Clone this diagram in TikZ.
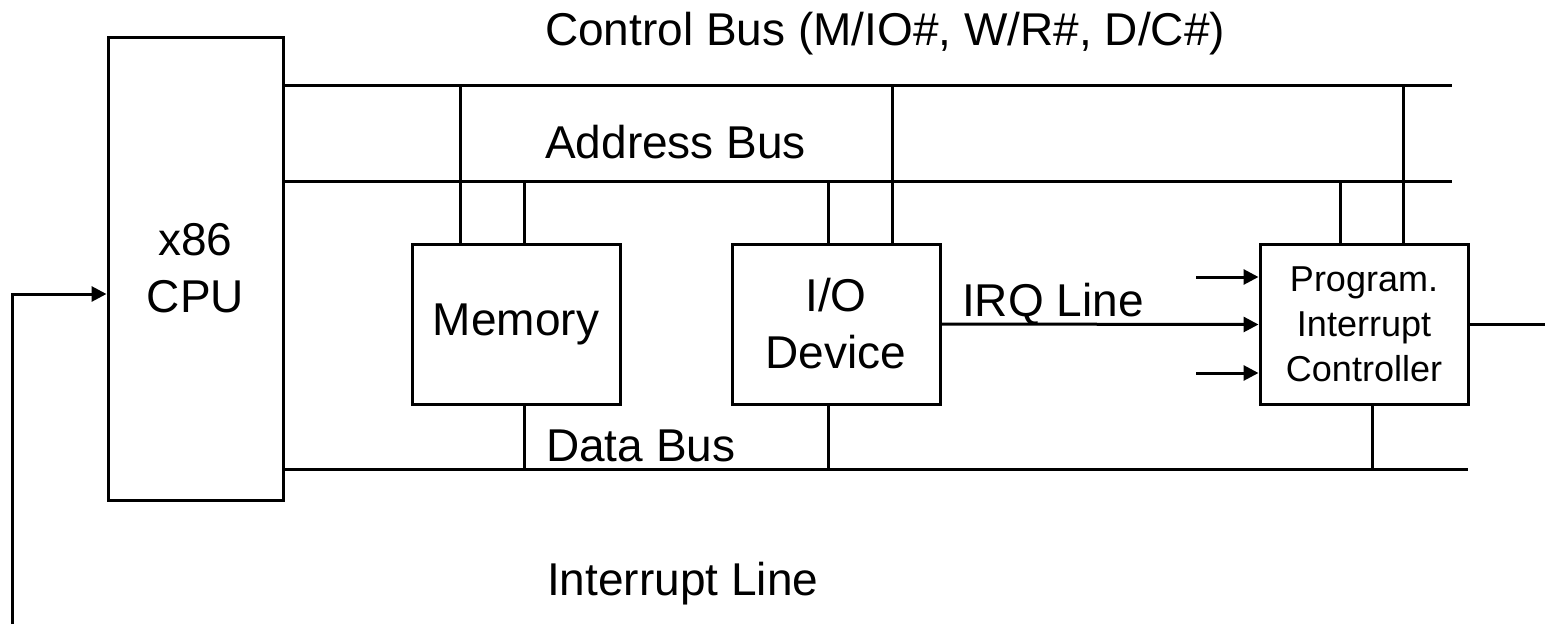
\documentclass[tikz,border=0pt]{standalone}
\usepackage{fontspec}
\setmainfont{Liberation Sans}
\usetikzlibrary{arrows.meta}
\begin{document}
\begin{tikzpicture}[x=1pt,y=-1pt,
  wire/.style={line width=3pt},
  arr/.style={wire,-{Triangle[length=15pt,width=15pt]}},
  blk/.style={draw,line width=3pt,minimum width=208pt,minimum height=160pt,
    inner sep=0pt,align=center,font=\fontsize{46}{57}\selectfont},
  lbl/.style={inner sep=0pt,anchor=base west,font=\fontsize{46}{57}\selectfont}]
\useasboundingbox (0,0) rectangle (1545,624);

% processor and devices
\node[blk,minimum width=175pt,minimum height=463pt] (cpu) at (195.5,268.5) {x86\\CPU};
\node[blk] (mem) at (516,324) {Memory};
\node[blk] (io) at (836,324) {I/O\\Device};
\node[blk,font=\fontsize{36}{45}\selectfont] (pic) at (1364,324.5) {Program.\\Interrupt\\Controller};

% bus end points
\coordinate (ctlEnd) at (1452,85);
\coordinate (adrEnd) at (1452,181);
\coordinate (datEnd) at (1468,469);

% the three buses
\draw[wire] (cpu.east |- ctlEnd) -- (ctlEnd);
\draw[wire] (cpu.east |- adrEnd) -- (adrEnd);
\draw[wire] (cpu.east |- datEnd) -- (datEnd);

% taps onto the buses
\coordinate (memC) at (460,85);
\coordinate (memA) at (524,181);
\coordinate (memD) at (524,469);
\coordinate (ioA) at (828,181);
\coordinate (ioC) at (892,85);
\coordinate (ioD) at (828,469);
\coordinate (picA) at (1340,181);
\coordinate (picC) at (1403,85);
\coordinate (picD) at (1372,469);
\draw[wire] (memC) -- (memC |- mem.north);
\draw[wire] (memA) -- (memA |- mem.north);
\draw[wire] (mem.south -| memD) -- (memD);
\draw[wire] (ioA) -- (ioA |- io.north);
\draw[wire] (ioC) -- (ioC |- io.north);
\draw[wire] (io.south -| ioD) -- (ioD);
\draw[wire] (picA) -- (picA |- pic.north);
\draw[wire] (picC) -- (picC |- pic.north);
\draw[wire] (pic.south -| picD) -- (picD);

% interrupt request inputs
\coordinate (irqA) at (1196,277);
\coordinate (irqC) at (1196,373);
\draw[arr] (io.east) -- (pic.west);
\draw[arr] (irqA) -- (irqA -| pic.west);
\draw[arr] (irqC) -- (irqC -| pic.west);

% controller output and interrupt line to the processor
\coordinate (picOut) at (1545,324.5);
\draw[wire] (pic.east) -- (picOut);
\coordinate (intBot) at (12,624);
\coordinate (intCorner) at (12,294);
\draw[arr] (intBot) -- (intCorner) -- (intCorner -| cpu.west);

% labels
\node[lbl] (lctl) at (545,45) {Control Bus (M/IO\#, W/R\#, D/C\#)};
\node[lbl] (ladr) at (545,158) {Address Bus};
\node[lbl] (ldat) at (546,461) {Data Bus};
\node[lbl] (lirq) at (962,316) {IRQ Line};
\node[lbl] (lint) at (547,595) {Interrupt Line};
\end{tikzpicture}
\end{document}
